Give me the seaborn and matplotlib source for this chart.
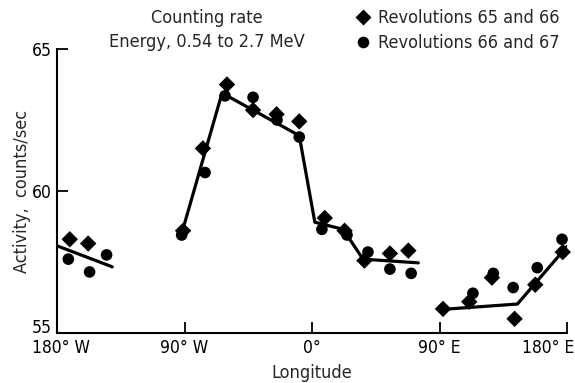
import numpy as np
import pandas as pd
import matplotlib
matplotlib.use('Agg')
import matplotlib.pyplot as plt
import matplotlib.transforms as mtrans
import seaborn as sns

# longitude in degrees (west negative), activity in counts/sec
rev_65_66_lon = [-171, -158, -91, -77, -60, -41.6, -25, -9, 9, 23, 37, 55, 68,
                 92.5, 111, 127, 143, 157.6, 177]
rev_65_66_val = [58.3, 58.15, 58.6, 61.5, 63.75, 62.85, 62.7, 62.45, 59.05, 58.6, 57.55, 57.8, 57.9,
                 55.85, 56.1, 56.95, 55.5, 56.7, 57.85]
rev_66_67_lon = [-172, -157, -145, -92, -75.5, -61.4, -41.6, -24.7, -9, 7, 24.7, 39.5, 55, 70,
                 113.6, 128, 142, 159, 176.5]
rev_66_67_val = [57.6, 57.15, 57.75, 58.45, 60.65, 63.35, 63.3, 62.5, 61.9, 58.65, 58.45, 57.85, 57.25, 57.1,
                 56.4, 57.1, 56.6, 57.3, 58.3]

# hand drawn fit lines
fit_seg = [0, 0, 1, 1, 1, 1, 1, 1, 1, 2, 2, 2]
fit_lon = [-180, -141, -92, -63.5, -9, 2, 22, 36, 75, 89, 145, 180]
fit_val = [58.07, 57.33, 58.5, 63.45, 61.95, 58.9, 58.65, 57.6, 57.47, 55.82, 56.02, 58.05]

tick_pos = [-180, -90, 0, 90, 180]
tick_lab = ['180° W', '90° W', '0°', '90° E', '180° E']

sns.set_style('ticks')
plt.rcParams['font.family'] = ['DejaVu Sans']
plt.rcParams['font.stretch'] = 'condensed'
fs = 13
tfs = 12.5

pts = pd.concat([
    pd.DataFrame({'lon': rev_65_66_lon, 'val': rev_65_66_val, 'rev': 'Revolutions 65 and 66'}),
    pd.DataFrame({'lon': rev_66_67_lon, 'val': rev_66_67_val, 'rev': 'Revolutions 66 and 67'}),
])
fit = pd.DataFrame({'seg': fit_seg, 'lon': fit_lon, 'val': fit_val})

fig = plt.figure(figsize=(5.75, 3.83), dpi=100)
ax = fig.add_axes([57 / 575, 1 - 333 / 383, 510 / 575, 284 / 383])

sns.lineplot(data=fit, x='lon', y='val', units='seg', estimator=None, sort=False,
             color='black', lw=2.3, ax=ax, legend=False)
sns.scatterplot(data=pts, x='lon', y='val', style='rev',
                markers={'Revolutions 65 and 66': 'D', 'Revolutions 66 and 67': 'o'},
                color='black', s=70, edgecolor='none', ax=ax, clip_on=False)

ax.set_xlim(-180, 180)
ax.set_ylim(55, 65)
ax.set_xticks(tick_pos)
ax.set_xticklabels(tick_lab)
ax.set_yticks([55, 60, 65])
ax.tick_params(direction='in', length=8, width=1.3, labelsize=tfs, colors='black')
ax.tick_params(axis='x', pad=4)
ax.tick_params(axis='y', pad=4)
for s in ['top', 'right']:
    ax.spines[s].set_visible(False)
for s in ['left', 'bottom']:
    ax.spines[s].set_linewidth(1.5)
    ax.spines[s].set_color('black')

# end labels sit inside the figure like in the print
first = ax.get_xticklabels()[0]
first.set_transform(first.get_transform() + mtrans.ScaledTranslation(4 / 100, 0, fig.dpi_scale_trans))
last = ax.get_xticklabels()[-1]
last.set_ha('right')
last.set_transform(last.get_transform() + mtrans.ScaledTranslation(7 / 100, 0, fig.dpi_scale_trans))
low = ax.get_yticklabels()[0]
low.set_transform(low.get_transform() + mtrans.ScaledTranslation(0, 7 / 100, fig.dpi_scale_trans))

ax.set_xlabel('Longitude', fontsize=fs, labelpad=5)
ax.set_ylabel('Activity,  counts/sec', fontsize=fs, labelpad=0)

h, l = ax.get_legend_handles_labels()
ax.legend(h, l, loc='upper left', bbox_to_anchor=(345 / 575, 1 - 2 / 383),
          bbox_transform=fig.transFigure, frameon=False, fontsize=fs,
          handlelength=1.2, handletextpad=0.2, labelspacing=0.4, borderaxespad=0)

fig.text(207 / 575, 1 - 18 / 383, 'Counting rate', ha='center', va='center', fontsize=fs)
fig.text(207 / 575, 1 - 42 / 383, 'Energy, 0.54 to 2.7 MeV', ha='center', va='center', fontsize=fs)

fig.savefig('out.png', dpi=100)
